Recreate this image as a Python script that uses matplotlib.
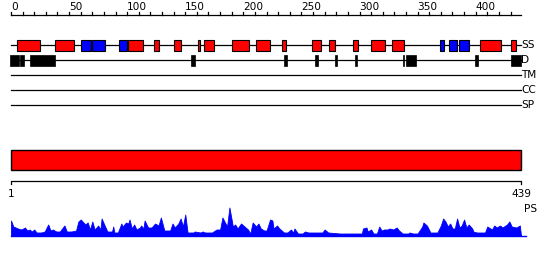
import numpy as np
import matplotlib
matplotlib.use('Agg')
import matplotlib.pyplot as plt
from matplotlib.patches import Rectangle

L = 439

# secondary structure segments (start, end, colour)
ss_red = [(5, 25), (38, 54), (101, 114), (123, 127), (140, 146), (161, 163),
          (166, 175), (190, 205), (211, 223), (233, 237), (259, 267), (274, 279),
          (294, 299), (310, 322), (328, 338), (404, 422), (430, 435)]
ss_blue = [(60, 69), (70, 81), (93, 100), (369, 373), (377, 384), (386, 394)]
# disorder segments
dis = [(-1, 6.5), (8, 11), (16, 38), (155, 158), (235, 238), (262, 264), (279, 281),
       (296, 298), (337, 338), (340, 349), (399, 402), (430, 439)]
tracks = ['SS', 'D', 'TM', 'CC', 'SP']

# PS profile (residue, height)
ps_pos = [0, 2, 6, 9, 12, 14, 16, 18, 20, 22, 26, 29, 32, 34, 36, 39, 42, 46, 48, 52,
          56, 58, 60, 64, 66, 68, 70, 72, 75, 77, 78, 81, 83, 87, 88, 89, 92, 95, 96, 99,
          101, 102, 104, 106, 108, 111, 112, 114, 115, 118, 121, 124, 127, 129, 132, 137,
          139, 141, 144, 146, 148, 150, 152, 157, 158, 163, 165, 167, 173, 177, 180, 182,
          186, 188, 191, 193, 195, 198, 201, 204, 206, 208, 211, 213, 215, 218, 220, 223,
          225, 226, 229, 231, 232, 235, 238, 241, 243, 244, 247, 251, 253, 256, 268, 270,
          273, 283, 302, 303, 306, 307, 310, 312, 315, 317, 319, 321, 324, 326, 329, 332,
          334, 337, 342, 343, 346, 350, 354, 355, 358, 361, 367, 370, 372, 374, 376, 378,
          380, 382, 384, 386, 388, 390, 392, 394, 397, 398, 401, 408, 410, 414, 416, 418,
          421, 423, 427, 429, 431, 435, 438, 439]
ps_val = [15, 9, 7, 6, 8, 5, 6, 4, 6, 3, 3, 4, 11, 5, 6, 4, 4, 10, 4, 4,
          5, 14, 16, 11, 13, 6, 14, 6, 10, 6, 17, 9, 4, 4, 9, 3, 3, 12, 9, 13,
          12, 16, 7, 11, 6, 8, 10, 7, 15, 8, 8, 12, 10, 18, 5, 5,
          12, 8, 12, 17, 9, 21, 3, 3, 4, 3, 4, 3, 3, 6, 6, 18,
          9, 28, 9, 11, 7, 12, 9, 6, 2, 13, 9, 12, 7, 5, 5, 16,
          15, 7, 10, 7, 6, 3, 3, 6, 3, 7, 2, 2, 4, 3, 3, 6,
          3, 2, 2, 7, 8, 4, 6, 2, 2, 9, 5, 6, 6, 7, 6, 8,
          5, 2, 2, 3, 2, 2, 9, 13, 10, 3, 3, 10, 17, 14, 9, 12,
          7, 7, 17, 8, 10, 16, 8, 11, 7, 4, 3, 3, 9, 6, 10, 8,
          10, 8, 11, 14, 9, 8, 10, 0]

ticks_major = list(range(0, 401, 50))
ticks_minor = list(range(0, 431, 10))

fig = plt.figure(figsize=(5.5, 2.6), dpi=100)
ax = fig.add_axes([0, 0, 1, 1])
sc = 510 / L
ax.set_xlim(-11 / sc, L + 29 / sc)
ax.set_ylim(260, 0)
ax.axis('off')

fs = 7.6
# top ruler
ax.plot([0, L], [15, 15], color='black', lw=0.9)
for t in ticks_minor:
    ax.plot([t, t], [15, 12], color='black', lw=0.9)
for t in ticks_major:
    ax.text(t, 12.5, str(t), ha='left', va='bottom', fontsize=fs)

# track lines
ys = [45, 60, 75, 90, 105]
for y, name in zip(ys, tracks):
    ax.plot([0, L], [y, y], color='black', lw=0.9, zorder=1)
    ax.text(L, y, name, ha='left', va='center', fontsize=fs)

for s, e in ss_red:
    ax.add_patch(Rectangle((s, 40), e - s, 11, fc='#ff0000', ec='black', lw=0.8, zorder=2))
for s, e in ss_blue:
    ax.add_patch(Rectangle((s, 40), e - s, 11, fc='#0000ff', ec='black', lw=0.8, zorder=2))
for s, e in dis:
    ax.add_patch(Rectangle((s, 55), e - s, 11, fc='black', ec='black', lw=0.5, zorder=2))

# domain bar
ax.add_patch(Rectangle((0, 150), L, 20, fc='#ff0000', ec='black', lw=1.0))

# bottom ruler
ax.plot([0, 0, L, L], [184, 180.5, 180.5, 184], color='black', lw=0.9)
ax.text(0, 189, '1', ha='center', va='top', fontsize=fs)
ax.text(L, 189, str(L), ha='center', va='top', fontsize=fs)
ax.text(L + 3, 204, 'PS', ha='left', va='top', fontsize=fs)

# PS profile
base = 235.5
pv = base - np.array(ps_val)
ax.fill_between(ps_pos, pv, base, color='#0000ff', lw=0.6, edgecolor='#0000ff')
ax.plot([0, L + 4], [base, base], color='#0000ff', lw=1.0)

fig.savefig('out.png', dpi=100)
